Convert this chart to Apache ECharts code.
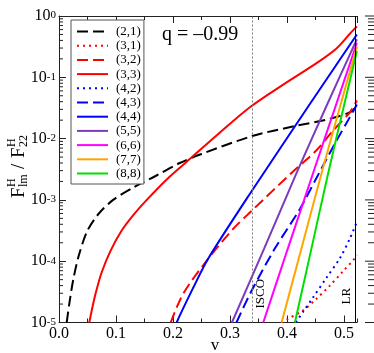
<!DOCTYPE html>
<html>
<head>
<meta charset="utf-8">
<script src="https://cdn.jsdelivr.net/npm/echarts@6/dist/echarts.min.js"></script>
<style>
  html, body { margin: 0; padding: 0; background: #fff; }
  #chart { width: 374px; height: 353px; }
</style>
</head>
<body>
<div id="chart"></div>
<script>
// ---- data ----
var V_21 = [0.0135, 0.018, 0.025, 0.035, 0.050, 0.070, 0.095, 0.130, 0.171, 0.212, 0.250, 0.339, 0.414, 0.475, 0.511, 0.5228];
var F_21 = [1.0e-5, 2.0e-5, 5.0e-5, 1.26e-4, 3.16e-4, 6.0e-4, 1.0e-3, 1.58e-3, 2.5e-3, 4.0e-3, 5.6e-3, 1.1e-2, 1.6e-2, 2.1e-2, 2.7e-2, 3.4e-2];

var V_31 = [0.390, 0.400, 0.4286, 0.452, 0.4754, 0.4988, 0.5193, 0.5228];
var F_31 = [1.0e-5, 1.12e-5, 1.58e-5, 2.45e-5, 4.0e-5, 6.9e-5, 1.12e-4, 1.26e-4];

var V_32 = [0.196, 0.218, 0.261, 0.306, 0.338, 0.408, 0.452, 0.481, 0.5105, 0.5228];
var F_32 = [1.0e-5, 2.95e-5, 1.07e-4, 3.39e-4, 6.61e-4, 2.75e-3, 6.46e-3, 1.35e-2, 2.69e-2, 4.17e-2];

var V_33 = [0.0532, 0.058, 0.065, 0.075, 0.090, 0.110, 0.130, 0.154, 0.190, 0.230, 0.280, 0.335, 0.3935, 0.452, 0.487, 0.5105, 0.5228];
var F_33 = [1.0e-5, 1.66e-5, 3.16e-5, 6.6e-5, 1.45e-4, 3.16e-4, 5.6e-4, 1.0e-3, 2.2e-3, 4.68e-3, 1.2e-2, 3.24e-2, 7.59e-2, 0.170, 0.295, 0.513, 0.676];

var V_42 = [0.4158, 0.428, 0.446, 0.4696, 0.493, 0.5105, 0.5228];
var F_42 = [1.0e-5, 1.48e-5, 2.57e-5, 5.4e-5, 1.12e-4, 2.34e-4, 4.4e-4];

var V_43 = [0.3114, 0.338, 0.379, 0.4228, 0.4509, 0.4842, 0.5105, 0.5228];
var F_43 = [1.0e-5, 3.3e-5, 1.62e-4, 7.1e-4, 2.19e-3, 8.3e-3, 2.24e-2, 3.6e-2];

var V_44 = [0.2065, 0.2123, 0.235, 0.261, 0.3386, 0.440, 0.475, 0.5228];
var F_44 = [1.0e-5, 1.32e-5, 3.6e-5, 1.07e-4, 1.41e-3, 3.63e-2, 0.110, 0.50];

var V_55 = [0.3035, 0.360, 0.417, 0.470, 0.5228];
var F_55 = [1.0e-5, 1.6e-4, 2.75e-3, 3.5e-2, 0.417];

var V_66 = [0.3585, 0.400, 0.446, 0.485, 0.5228];
var F_66 = [1.0e-5, 1.45e-4, 2.75e-3, 3.3e-2, 0.363];

var V_77 = [0.3907, 0.425, 0.4609, 0.490, 0.5228];
var F_77 = [1.0e-5, 1.55e-4, 2.75e-3, 2.6e-2, 0.316];

var V_88 = [0.414, 0.440, 0.4725, 0.500, 0.5228];
var F_88 = [1.0e-5, 1.2e-4, 2.75e-3, 3.4e-2, 0.269];

var NAMES = ['(2,1)', '(3,1)', '(3,2)', '(3,3)', '(4,2)', '(4,3)', '(4,4)', '(5,5)', '(6,6)', '(7,7)', '(8,8)'];
var COLORS = ['#000000', '#ff0000', '#ff0000', '#ff0000', '#0000ff', '#0000ff', '#0000ff', '#7b3bbf', '#ff00ff', '#ffa500', '#00e000'];
var STYLES = ['dashed', 'dotted', 'dashed', 'solid', 'dotted', 'dashed', 'solid', 'solid', 'solid', 'solid', 'solid'];
var CURVES = [[V_21, F_21], [V_31, F_31], [V_32, F_32], [V_33, F_33], [V_42, F_42], [V_43, F_43],
              [V_44, F_44], [V_55, F_55], [V_66, F_66], [V_77, F_77], [V_88, F_88]];

var ISCO_V = 0.338;
var LR_V = 0.5228;
var X_MIN = 0, X_MAX = 0.523;
var Y_MIN = 1e-5, Y_MAX = 1;
var Y_DECADES = [1e-5, 1e-4, 1e-3, 1e-2, 1e-1, 1];
var Y_MINOR_STEPS = [2, 3, 4, 5, 6, 7, 8, 9];

var SERIF = '"Liberation Serif", "DejaVu Serif", serif';
var AXIS_COLOR = '#222';

// ---- build ----
function pairs(v, f) {
  var out = [];
  for (var i = 0; i < v.length; i++) out.push([v[i], f[i]]);
  return out;
}

var dashTypes = { solid: 'solid', dashed: [11, 5], dotted: [2, 4] };

var series = CURVES.map(function (c, i) {
  return {
    name: NAMES[i],
    type: 'line',
    data: pairs(c[0], c[1]),
    symbol: 'none',
    smooth: 0.3,
    silent: true,
    color: COLORS[i],
    lineStyle: { color: COLORS[i], width: 2, type: dashTypes[STYLES[i]] }
  };
});

// ISCO and light ring markers
series[0].markLine = {
  silent: true,
  symbol: 'none',
  animation: false,
  data: [
    { xAxis: ISCO_V, lineStyle: { type: [2, 2], color: '#777', width: 1 },
      label: { formatter: 'ISCO', position: 'insideStartBottom', distance: [14, 1],
               fontFamily: SERIF, fontSize: 13, color: '#000' } },
    { xAxis: LR_V, lineStyle: { type: 'solid', color: '#000', width: 1 },
      label: { formatter: 'LR', position: 'insideStartTop', distance: [18, 2],
               fontFamily: SERIF, fontSize: 13, color: '#000' } }
  ]
};

// minor log ticks on the left, plus the tick column beyond the right edge
var tickData = [];
Y_DECADES.forEach(function (d) {
  tickData.push([X_MIN, d, 1]);
  if (d < Y_MAX) Y_MINOR_STEPS.forEach(function (m) { tickData.push([X_MIN, d * m, 0]); });
});

series.push({
  type: 'custom',
  silent: true,
  data: tickData,
  renderItem: function (params, api) {
    var val = api.value(1), major = api.value(2);
    var pL = api.coord([X_MIN, val]);
    var pR = api.coord([X_MAX, val]);
    var st = { stroke: AXIS_COLOR, lineWidth: 1 };
    var kids = [];
    if (!major) kids.push({ type: 'line', shape: { x1: pL[0], y1: pL[1], x2: pL[0] + 4, y2: pL[1] }, style: st });
    kids.push({ type: 'line', shape: { x1: pR[0] + (major ? 8 : 11), y1: pR[1], x2: pR[0] + 17, y2: pR[1] }, style: st });
    return { type: 'group', children: kids };
  }
});

function xAxisDef(pos, interval, tickLen, labels) {
  return {
    type: 'value', position: pos, min: X_MIN, max: X_MAX, interval: interval,
    axisLine: { show: tickLen > 5, onZero: false, lineStyle: { color: AXIS_COLOR, width: 1 } },
    axisTick: { show: true, inside: true, length: tickLen, lineStyle: { color: AXIS_COLOR } },
    splitLine: { show: false },
    axisLabel: labels ? {
      show: true, margin: 3, showMaxLabel: false, color: '#000', fontFamily: SERIF, fontSize: 16,
      formatter: function (v) { return Math.abs(v * 10 - Math.round(v * 10)) < 1e-6 ? v.toFixed(1) : ''; }
    } : { show: false }
  };
}

var option = {
  animation: false,
  backgroundColor: '#fff',
  grid: { left: 59, top: 10, width: 298, height: 312.5 },
  xAxis: [
    xAxisDef('bottom', 0.1, 7, true),
    xAxisDef('bottom', 0.05, 4, false),
    xAxisDef('top', 0.1, 7, false),
    xAxisDef('top', 0.05, 4, false)
  ],
  yAxis: [{
    type: 'log', logBase: 10, min: Y_MIN, max: Y_MAX, splitNumber: 5,
    axisLine: { show: true, lineStyle: { color: AXIS_COLOR, width: 1 } },
    axisTick: { show: true, inside: true, length: 7, lineStyle: { color: AXIS_COLOR } },
    splitLine: { show: false },
    axisLabel: {
      margin: 3,
      formatter: function (v) { return '{b|10}{e|' + Math.round(Math.log10(v)) + '}'; },
      rich: {
        b: { fontFamily: SERIF, fontSize: 16, lineHeight: 16, padding: [8, 0, 0, 0], verticalAlign: 'bottom', color: '#000' },
        e: { fontFamily: SERIF, fontSize: 11, lineHeight: 11, padding: [2, 0, 0, 0], verticalAlign: 'top', color: '#000' }
      }
    }
  }],
  legend: {
    data: NAMES,
    orient: 'vertical',
    left: 71, top: 20,
    padding: [5, 3, 4, 5],
    itemWidth: 31, itemHeight: 14, itemGap: 1.2,
    borderColor: '#555', borderWidth: 1, borderRadius: 0,
    backgroundColor: '#fff',
    selectedMode: false,
    itemStyle: { opacity: 0 },
    textStyle: { fontFamily: SERIF, fontSize: 13, color: '#000', padding: [0, 0, 0, 3] }
  },
  graphic: [
    { type: 'text', x: 162, y: 35, silent: true,
      style: { text: 'q = \u20130.99', fontFamily: SERIF, fontSize: 20, fill: '#000', verticalAlign: 'middle' } },
    { type: 'text', x: 215, y: 346, silent: true,
      style: { text: 'v', fontFamily: SERIF, fontSize: 17, fill: '#000', align: 'center', verticalAlign: 'middle' } },
    { type: 'group', x: 19, y: 164, rotation: Math.PI / 2, silent: true, children: [
      { type: 'text', x: -34, y: 0, style: { text: 'F', fontFamily: SERIF, fontSize: 19, fill: '#000', verticalAlign: 'middle' } },
      { type: 'text', x: -23, y: -7, style: { text: 'H', fontFamily: SERIF, fontSize: 12, fill: '#000', verticalAlign: 'middle' } },
      { type: 'text', x: -23, y: 5, style: { text: 'lm', fontFamily: SERIF, fontSize: 12, fill: '#000', verticalAlign: 'middle' } },
      { type: 'text', x: -5, y: 0, style: { text: '/', fontFamily: SERIF, fontSize: 19, fill: '#000', verticalAlign: 'middle' } },
      { type: 'text', x: 6, y: 0, style: { text: 'F', fontFamily: SERIF, fontSize: 19, fill: '#000', verticalAlign: 'middle' } },
      { type: 'text', x: 17, y: -7, style: { text: 'H', fontFamily: SERIF, fontSize: 12, fill: '#000', verticalAlign: 'middle' } },
      { type: 'text', x: 17, y: 5, style: { text: '22', fontFamily: SERIF, fontSize: 12, fill: '#000', verticalAlign: 'middle' } }
    ]}
  ],
  series: series
};

var chart = echarts.init(document.getElementById('chart'));
chart.setOption(option);
</script>
</body>
</html>
